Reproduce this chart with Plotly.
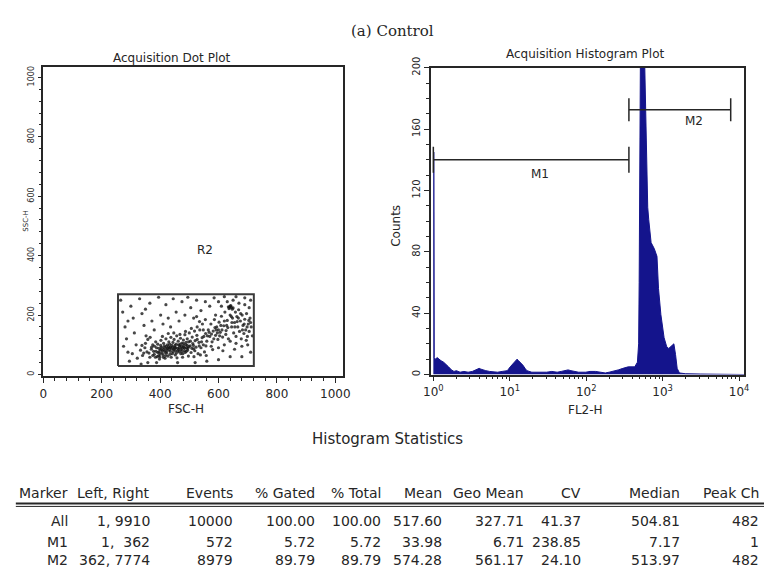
import numpy as np
import plotly.graph_objects as go

W, H = 772, 569
def px(x): return x / W
def py(y): return 1 - y / H

# ---------------- data ----------------
# Acquisition dot plot: events (FSC-H, SSC-H) inside region R2
r2_events = [
    (362,72),(370,85),(375,64),(381,95),(386,78),(390,60),(392,102),(396,88),(400,70),(403,115),
    (405,92),(408,80),(410,66),(412,105),(415,96),(418,74),(420,120),(422,86),(425,100),(427,62),
    (430,110),(432,90),(435,78),(437,125),(440,98),(442,70),(444,108),(446,84),(448,118),(450,92),
    (452,66),(455,102),(457,130),(460,88),(462,112),(465,76),(467,96),(470,122),(472,84),(475,106),
    (478,70),(480,116),(482,92),(485,134),(488,100),(490,78),(493,120),(495,88),(498,110),(500,140),
    (503,96),(506,74),(510,126),(512,104),(515,86),(518,146),(520,114),(523,92),(526,132),(530,70),
    (533,108),(536,150),(540,90),(544,124),(548,100),(552,76),(556,138),(560,112),(385,110),(398,52),
    (408,128),(417,55),(428,138),(438,58),(447,140),(458,56),(468,135),(477,58),(487,145),(497,62),
    (507,155),(516,60),(527,160),(538,66),(548,150),(558,64),(375,100),(365,58),(355,76),(348,90),
    (340,64),(333,82),(392,74),(402,98),(412,84),(423,72),(433,102),(443,92),(453,80),(463,100),
    (473,94),(483,80),(493,98),(380,68),(388,90),(395,64),(401,82),(407,72),(414,90),(419,64),
    (424,80),(429,94),(434,68),(439,86),(445,76),(451,98),(456,72),(461,80),(466,90),(471,70),
    (476,88),(481,104),(486,74),(491,90),(371,92),(378,78),(384,58),(399,60),(411,58),(426,88),
    (396,76),(404,86),(416,80),(421,94),(431,84),(436,92),(449,86),(454,90),(464,84),(469,102),
    (474,78),(479,96),(484,88),(489,108),(494,82),(499,94),(504,112),(509,88),(514,98),(519,80),
    (350,105),(358,118),(366,125),(344,72),(338,98),(527,118),(534,96),(542,110),(550,128),(557,96),
    (565,150),(570,128),(574,170),(578,110),(582,146),(586,185),(590,132),(594,160),(598,118),(602,176),
    (606,142),(610,196),(614,126),(618,164),(622,210),(626,148),(630,182),(634,120),(638,226),(640,200),
    (642,232),(645,160),(648,190),(650,224),(652,140),(655,175),(658,210),(660,128),(663,195),(666,160),
    (669,218),(672,145),(675,180),(678,120),(681,200),(684,165),(687,138),(690,186),(693,150),(696,205),
    (699,128),(702,170),(705,145),(708,190),(712,160),(716,130),(700,100),(680,95),(660,105),(640,112),
    (620,100),(600,90),(580,84),(590,200),(610,230),(630,245),(650,250),(670,240),(690,235),(705,225),
    (575,95),(615,80),(655,85),(695,115),(545,170),(555,185),(535,178),(525,195),(600,150),(625,135),
    (636,222),(640,230),(644,226),(647,220),(634,228),(562,130),(568,142),(584,120),(592,150),(604,130),
    (612,150),(628,165),(646,175),(664,178),(682,150),(698,160),(710,175),(576,136),(588,158),(596,140),
    (608,165),(620,180),(632,158),(644,195),(656,160),(668,190),(676,205),(688,170),(704,182),
    (265,250),(272,210),(280,160),(285,120),(290,75),(295,45),(300,230),(308,190),(312,140),(318,100),
    (322,55),(330,255),(338,205),(345,165),(352,130),(358,40),(365,240),(372,180),(380,150),(388,40),
    (395,260),(402,200),(410,170),(420,235),(428,190),(436,160),(445,255),(455,210),(465,180),(475,245),
    (485,200),(495,260),(505,225),(515,190),(525,250),(540,215),(555,245),(570,230),(585,258),(600,245),
    (620,262),(660,262),(690,258),(710,250),(560,45),(600,50),(640,60),(680,60),(710,75),(275,95),
    (290,180),(305,70),(335,35),(350,220),(460,40),(520,40),
]
fsc = [p[0] for p in r2_events]
ssc = [p[1] for p in r2_events]
r2_gate = [256, 721, 29, 270]          # FSC left, FSC right, SSC bottom, SSC top
r2_label = (554, 418)

# Acquisition histogram: FL2-H (log10 of value) and counts
fl2_log = [0.000, 0.008, 0.012, 0.028, 0.050, 0.071, 0.100, 0.135, 0.160, 0.199,
           0.237, 0.270, 0.301, 0.350, 0.400, 0.455, 0.510, 0.558, 0.600, 0.622,
           0.650, 0.686, 0.737, 0.790, 0.840, 0.900, 0.968, 1.006, 1.045, 1.075,
           1.096, 1.115, 1.135, 1.173, 1.200, 1.224, 1.288, 1.350, 1.420, 1.481,
           1.550, 1.620, 1.673, 1.720, 1.763, 1.800, 1.840, 1.900, 1.994, 2.050,
           2.122, 2.180, 2.250, 2.300, 2.353, 2.420, 2.480, 2.550, 2.600, 2.635,
           2.670, 2.686, 2.693, 2.699, 2.705, 2.712, 2.754, 2.765, 2.775, 2.785,
           2.805, 2.818, 2.849, 2.891, 2.926, 2.946, 2.977, 3.019, 3.054, 3.080,
           3.105, 3.147, 3.169, 3.190, 3.220, 3.300, 3.500, 4.070]
fl2_counts = [145, 145, 11, 10, 11, 10, 9, 8, 7, 5,
              3, 2, 2.5, 1.5, 2, 1.5, 2, 3, 4, 3.5,
              3, 2.5, 2, 1.5, 1.5, 2, 2.5, 5, 7, 9,
              10, 9, 8, 6, 4, 2.5, 1.5, 1.5, 1.5, 1.5,
              2, 1.5, 2, 2.5, 3, 2.5, 2, 1.5, 1.5, 2,
              2, 1.5, 1, 1.5, 2, 3, 4, 5, 5, 5,
              8, 20, 60, 110, 150, 230, 230, 200, 165, 141,
              109, 101, 86, 82, 77, 56, 39, 24, 18, 17,
              18, 20, 13, 4, 1, 0.5, 0.3, 0]

marker_names = ["M1", "M2"]
marker_left = [1, 362]
marker_right = [362, 7774]
marker_level = [140, 172.5]
marker_label_x = [24.8, 2535]
marker_label_y = [131, 165]

# Histogram statistics table
stat_header = ["Marker", "Left, Right", "Events", "% Gated", "% Total",
               "Mean", "Geo Mean", "CV", "Median", "Peak Ch"]
stat_marker = ["All", "M1", "M2"]
stat_left_right = ["1, 9910", "1,  362", "362, 7774"]
stat_events = [10000, 572, 8979]
stat_pct_gated = [100.00, 5.72, 89.79]
stat_pct_total = [100.00, 5.72, 89.79]
stat_mean = [517.60, 33.98, 574.28]
stat_geo_mean = [327.71, 6.71, 561.17]
stat_cv = [41.37, 238.85, 24.10]
stat_median = [504.81, 7.17, 513.97]
stat_peak_ch = [482, 1, 482]

# ---------------- figure ----------------
INK = "#262626"
FONT = "DejaVu Sans, Liberation Sans, Arial, sans-serif"
fig = go.Figure()

fig.add_trace(go.Scatter(x=fsc, y=ssc, mode="markers",
                         marker=dict(size=3.2, color="rgba(20,20,20,0.78)"),
                         xaxis="x", yaxis="y", hoverinfo="skip"))
g0, g1, gb, gt = r2_gate
fig.add_trace(go.Scatter(x=[g0, g1, g1, g0, g0], y=[gb, gb, gt, gt, gb], mode="lines",
                         line=dict(color="#3a3a3a", width=2), xaxis="x", yaxis="y"))

fig.add_trace(go.Scatter(x=10 ** np.array(fl2_log), y=fl2_counts, mode="lines",
                         fill="tozeroy", fillcolor="#14148c",
                         line=dict(color="#14148c", width=1), xaxis="x2", yaxis="y2"))

cap = [8.5, 7.5]
for i, name in enumerate(marker_names):
    l, r, lv = marker_left[i], marker_right[i], marker_level[i]
    xs = [l, r, None, l, l, None, r, r]
    ys = [lv, lv, None, lv - cap[i], lv + cap[i], None, lv - cap[i], lv + cap[i]]
    fig.add_trace(go.Scatter(x=xs, y=ys, mode="lines", line=dict(color=INK, width=1.5),
                             xaxis="x2", yaxis="y2"))

axis_common = dict(showline=True, linecolor=INK, linewidth=1.5, mirror=True,
                   showgrid=False, zeroline=False, ticks="outside", tickcolor=INK,
                   tickwidth=1.2)

fig.update_layout(
    width=W, height=H, margin=dict(l=0, r=0, t=0, b=0),
    paper_bgcolor="white", plot_bgcolor="white", showlegend=False,
    font=dict(family=FONT, color=INK),
    xaxis=dict(domain=[px(36), px(342)], range=[0, 1026], anchor="y",
               tickvals=[0, 200, 400, 600, 800, 1000], ticklen=5,
               minor=dict(dtick=40, ticks="outside", ticklen=3, tickcolor=INK),
               tickfont=dict(size=12, color=INK), **axis_common),
    yaxis=dict(domain=[py(374), py(57)], range=[-6.6, 1036], anchor="x",
               tickvals=[0, 200, 400, 600, 800, 1000], ticklen=4, tickangle=-90,
               minor=dict(dtick=40, ticks="outside", ticklen=3, tickcolor=INK),
               tickfont=dict(size=8, color=INK), **axis_common),
    xaxis2=dict(type="log", domain=[px(432), px(752)], range=[-0.03, 4.07], anchor="y2",
                tickvals=[1, 10, 100, 1000, 10000],
                ticktext=["10<sup>0</sup>", "10<sup>1</sup>", "10<sup>2</sup>",
                          "10<sup>3</sup>", "10<sup>4</sup>"], ticklen=5,
                minor=dict(tickvals=[d * m for m in (1, 10, 100, 1000) for d in range(2, 10)],
                           ticks="outside", ticklen=3, tickcolor=INK),
                tickfont=dict(size=12, color=INK), **axis_common),
    yaxis2=dict(domain=[py(372), py(58)], range=[0, 200], anchor="x2",
                tickvals=[0, 40, 80, 120, 160, 200], ticklen=5, tickangle=-90,
                minor=dict(dtick=10, ticks="outside", ticklen=3, tickcolor=INK),
                tickfont=dict(size=10, color=INK), **axis_common),
)

ann = []
def text(x, y, s, size=12, anchor="center", angle=0, family=FONT, xref="paper", yref="paper"):
    ann.append(dict(x=x, y=y, xref=xref, yref=yref, text=s, showarrow=False,
                    xanchor=anchor, yanchor="middle", textangle=angle,
                    font=dict(size=size, family=family, color=INK)))

text(px(393), py(20), "(a) Control", size=15, family="DejaVu Serif, Liberation Serif, serif")
text(px(167), py(48), "Acquisition Dot Plot", size=12)
text(px(590), py(44), "Acquisition Histogram Plot", size=12)
text(px(182), py(407), "FSC-H", size=12)
text(px(18), py(215), "SSC-H", size=7, angle=-90)
text(px(396), py(220), "Counts", size=12, angle=-90)
text(px(590), py(408), "FL2-H", size=12)
text(r2_label[0], r2_label[1], "R2", size=12, xref="x", yref="y")
for i, name in enumerate(marker_names):
    text(np.log10(marker_label_x[i]), marker_label_y[i], name, size=12, xref="x2", yref="y2")

text(px(388), py(438), "Histogram Statistics", size=15)

col_right = [63, 147, 232, 316, 383, 445, 529, 587, 688, 769]
header_y = 493
row_y = [522, 543, 562]
for c, h in enumerate(stat_header):
    text(px(col_right[c]), py(header_y), h, size=14, anchor="right")
columns = [
    stat_marker, stat_left_right,
    [str(v) for v in stat_events],
    [f"{v:.2f}" for v in stat_pct_gated],
    [f"{v:.2f}" for v in stat_pct_total],
    [f"{v:.2f}" for v in stat_mean],
    [f"{v:.2f}" for v in stat_geo_mean],
    [f"{v:.2f}" for v in stat_cv],
    [f"{v:.2f}" for v in stat_median],
    [str(v) for v in stat_peak_ch],
]
for c, col in enumerate(columns):
    for r, s in enumerate(col):
        text(px(col_right[c]), py(row_y[r]), s.replace("  ", "&nbsp;&nbsp;"), size=14, anchor="right")

fig.update_layout(annotations=ann)
fig.add_shape(type="line", xref="paper", yref="paper", x0=px(8), x1=px(772),
              y0=py(504), y1=py(504), line=dict(color=INK, width=2))
fig.add_shape(type="line", xref="paper", yref="paper", x0=px(8), x1=px(772),
              y0=py(507), y1=py(507), line=dict(color=INK, width=1))

fig.write_html("out.html", config={"displayModeBar": False},
               post_script="document.body.style.margin='0';document.body.style.overflow='hidden';")
